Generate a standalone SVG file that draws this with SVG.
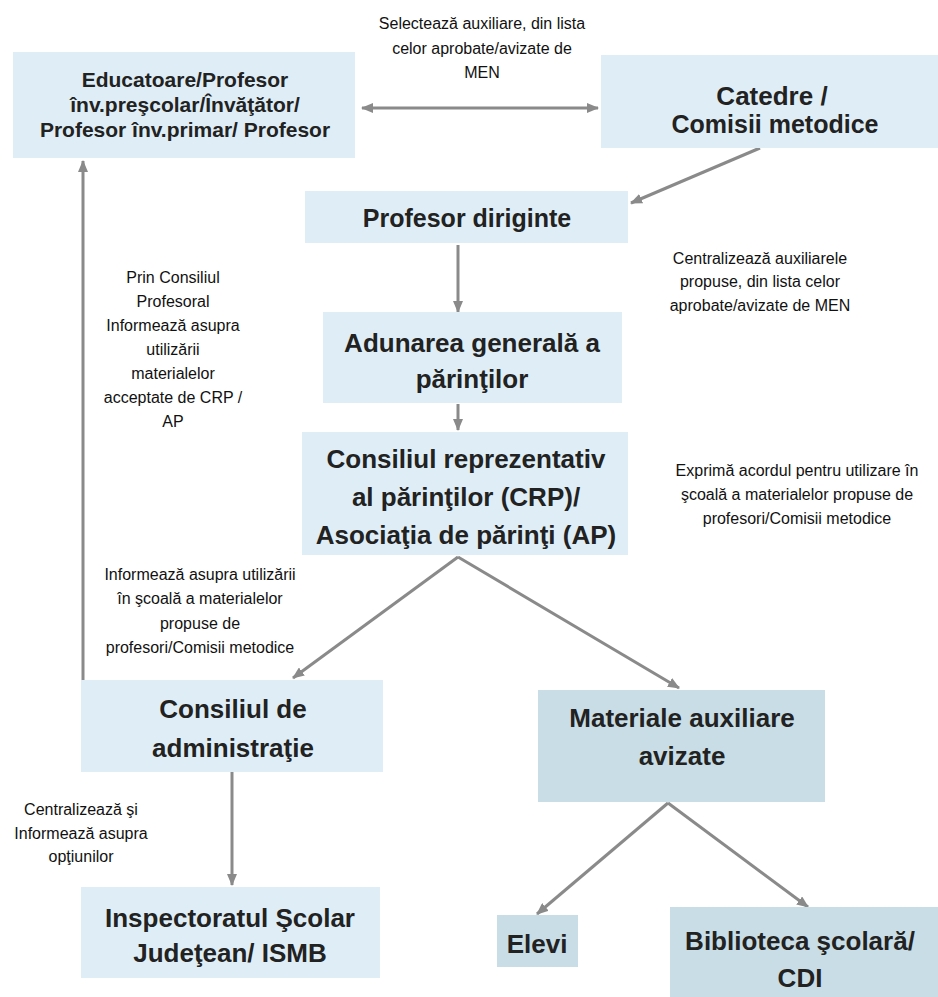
<svg xmlns="http://www.w3.org/2000/svg" width="938" height="997" viewBox="0 0 938 997">
<defs>
<style>
.bg{fill:#ffffff}
.box{fill:#dfeef6}
.box2{fill:#c9dde6}
.bt{font-family:"Liberation Sans",Arial,sans-serif;font-weight:bold;font-size:26px;fill:#222;text-anchor:middle}
.lt{font-family:"Liberation Sans",Arial,sans-serif;font-size:16px;fill:#111;text-anchor:middle}
.cn{stroke:#8a8a8a;stroke-width:3;fill:none}
</style>
<marker id="ah" viewBox="0 0 12 10" refX="11" refY="5" markerWidth="12" markerHeight="10" markerUnits="userSpaceOnUse" orient="auto-start-reverse">
<path d="M0,0 L12,5 L0,10 z" fill="#8a8a8a"/>
</marker>
</defs>
<rect class="bg" x="0" y="0" width="938" height="997"/>

<g id="connectors">
<line class="cn" x1="362" y1="108" x2="598" y2="108" marker-start="url(#ah)" marker-end="url(#ah)"/>
<line class="cn" x1="760" y1="148" x2="631" y2="203" marker-end="url(#ah)"/>
<line class="cn" x1="458" y1="245" x2="458" y2="312" marker-end="url(#ah)"/>
<line class="cn" x1="458" y1="404" x2="458" y2="430" marker-end="url(#ah)"/>
<line class="cn" x1="458" y1="557" x2="293" y2="678" marker-end="url(#ah)"/>
<line class="cn" x1="458" y1="557" x2="679" y2="688" marker-end="url(#ah)"/>
<line class="cn" x1="83" y1="690" x2="83" y2="161" marker-end="url(#ah)"/>
<line class="cn" x1="232" y1="772" x2="232" y2="885" marker-end="url(#ah)"/>
<line class="cn" x1="668" y1="803" x2="537" y2="914" marker-end="url(#ah)"/>
<line class="cn" x1="668" y1="803" x2="808" y2="907" marker-end="url(#ah)"/>
</g>

<g id="n-educatoare">
<rect class="box" x="13" y="52" width="342" height="106"/>
<text class="bt" style="font-size:21px" x="185" y="87">Educatoare/Profesor</text>
<text class="bt" style="font-size:21px" x="185" y="112">înv.preşcolar/Învăţător/</text>
<text class="bt" style="font-size:21px" x="185" y="137">Profesor înv.primar/ Profesor</text>
</g>

<g id="n-catedre">
<rect class="box" x="601" y="55" width="337" height="93"/>
<text class="bt" x="772" y="105">Catedre /</text>
<text class="bt" style="font-size:25px" x="775" y="133">Comisii metodice</text>
</g>

<g id="n-diriginte">
<rect class="box" x="305" y="191" width="323" height="52"/>
<text class="bt" style="font-size:25px" x="467" y="227">Profesor diriginte</text>
</g>

<g id="n-adunarea">
<rect class="box" x="323" y="312" width="299" height="91"/>
<text class="bt" x="472" y="352">Adunarea generală a</text>
<text class="bt" x="472" y="388">părinţilor</text>
</g>

<g id="n-crp">
<rect class="box" x="302" y="432" width="326" height="123"/>
<text class="bt" x="466" y="468">Consiliul reprezentativ</text>
<text class="bt" x="466" y="506">al părinţilor (CRP)/</text>
<text class="bt" x="466" y="544">Asociaţia de părinţi (AP)</text>
</g>

<g id="n-ca">
<rect class="box" x="81" y="680" width="302" height="92"/>
<text class="bt" x="233" y="718">Consiliul de</text>
<text class="bt" x="233" y="757">administraţie</text>
</g>

<g id="n-materiale">
<rect class="box2" x="538" y="690" width="287" height="112"/>
<text class="bt" x="682" y="727">Materiale auxiliare</text>
<text class="bt" x="682" y="765">avizate</text>
</g>

<g id="n-isj">
<rect class="box" x="81" y="887" width="299" height="91"/>
<text class="bt" x="230" y="927">Inspectoratul Şcolar</text>
<text class="bt" x="230" y="962">Judeţean/ ISMB</text>
</g>

<g id="n-elevi">
<rect class="box2" x="497" y="915" width="81" height="52"/>
<text class="bt" x="537" y="953">Elevi</text>
</g>

<g id="n-biblioteca">
<rect class="box2" x="670" y="907" width="268" height="90"/>
<text class="bt" x="800" y="950">Biblioteca şcolară/</text>
<text class="bt" x="800" y="987">CDI</text>
</g>

<g id="labels">
<text class="lt" x="482" y="29">Selectează auxiliare, din lista</text>
<text class="lt" x="482" y="54">celor aprobate/avizate de</text>
<text class="lt" x="482" y="78">MEN</text>

<text class="lt" x="760" y="264">Centralizează  auxiliarele</text>
<text class="lt" x="760" y="287">propuse, din lista celor</text>
<text class="lt" x="760" y="311">aprobate/avizate de MEN</text>

<text class="lt" x="173" y="283">Prin Consiliul</text>
<text class="lt" x="173" y="307">Profesoral</text>
<text class="lt" x="173" y="331">Informează asupra</text>
<text class="lt" x="173" y="355">utilizării</text>
<text class="lt" x="173" y="379">materialelor</text>
<text class="lt" x="173" y="403">acceptate de CRP /</text>
<text class="lt" x="173" y="427">AP</text>

<text class="lt" x="797" y="476">Exprimă acordul pentru utilizare în</text>
<text class="lt" x="797" y="500">şcoală a materialelor propuse de</text>
<text class="lt" x="797" y="524">profesori/Comisii metodice</text>

<text class="lt" x="200" y="580">Informează asupra utilizării</text>
<text class="lt" x="200" y="604">în şcoală a materialelor</text>
<text class="lt" x="200" y="629">propuse de</text>
<text class="lt" x="200" y="653">profesori/Comisii metodice</text>

<text class="lt" x="81" y="815">Centralizează şi</text>
<text class="lt" x="81" y="839">Informează asupra</text>
<text class="lt" x="81" y="862">opţiunilor</text>
</g>
</svg>
